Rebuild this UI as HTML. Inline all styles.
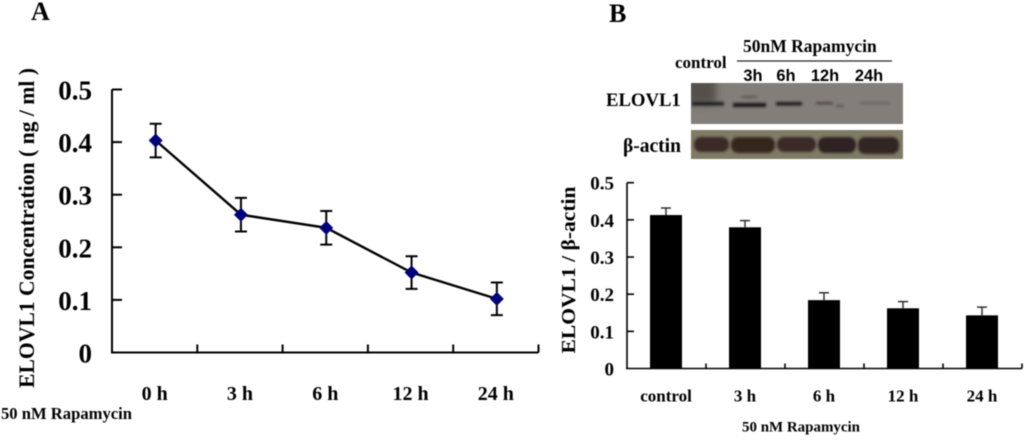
<!DOCTYPE html>
<html>
<head>
<meta charset="utf-8">
<style>
html,body{margin:0;padding:0;background:#fff;width:1024px;height:441px;overflow:hidden}
svg{display:block}
text{font-family:"Liberation Serif",serif;font-weight:bold;fill:#000}
</style>
</head>
<body>
<svg id="fig" xmlns="http://www.w3.org/2000/svg" width="1024" height="441" viewBox="0 0 1024 441">
<defs>
<filter id="soft" x="-5%" y="-5%" width="110%" height="110%"><feGaussianBlur stdDeviation="0.5"/></filter>
<filter id="b1" x="-30%" y="-200%" width="160%" height="500%"><feGaussianBlur stdDeviation="1.3"/></filter>
<filter id="b2" x="-60%" y="-60%" width="220%" height="220%"><feGaussianBlur stdDeviation="4"/></filter>
<clipPath id="clipElovl"><rect x="691" y="83" width="212" height="41"/></clipPath>
<clipPath id="clipActin"><rect x="691" y="130" width="212" height="29"/></clipPath>
</defs>
<g id="root" filter="url(#soft)">
<text x="31" y="20" font-size="26">A</text>
<text x="609" y="22" font-size="26">B</text>

<g>
<text x="675" y="68" font-size="17">control</text>
<text x="743" y="52" font-size="17.5">50nM Rapamycin</text>
<line x1="737" y1="61" x2="892" y2="61" stroke="#222" stroke-width="1.3"/>
<g font-size="16.4">
<text x="753" y="81" text-anchor="middle" style="font-family:'Liberation Sans',sans-serif">3h</text>
<text x="786" y="81" text-anchor="middle" style="font-family:'Liberation Sans',sans-serif">6h</text>
<text x="825" y="81" text-anchor="middle" style="font-family:'Liberation Sans',sans-serif">12h</text>
<text x="869" y="81" text-anchor="middle" style="font-family:'Liberation Sans',sans-serif">24h</text>
</g>
<text x="606" y="106" font-size="18.7">ELOVL1</text>
<text x="623" y="152" font-size="19.5">β-actin</text>

<g clip-path="url(#clipElovl)">
<rect x="691" y="83" width="212" height="41" fill="#827e79"/>
<rect x="686" y="78" width="30" height="26" fill="#54504c" filter="url(#b2)"/>
<rect x="692" y="102" width="32" height="3.5" fill="#1c1a1a" filter="url(#b1)"/>
<rect x="733" y="103" width="33" height="4" fill="#141212" filter="url(#b1)"/>
<ellipse cx="749" cy="97" rx="9" ry="1.6" fill="#625e5a" filter="url(#b1)"/>
<rect x="776" y="102" width="26" height="3.5" fill="#1e1c1c" filter="url(#b1)"/>
<rect x="816" y="102" width="17" height="2.5" fill="#4d4a48" filter="url(#b1)"/>
<rect x="836" y="105" width="8" height="2" fill="#55524f" filter="url(#b1)"/>
<rect x="860" y="102" width="30" height="2" fill="#63605c" filter="url(#b1)"/>
</g>
<g clip-path="url(#clipActin)">
<rect x="691" y="130" width="212" height="29" fill="#7f7b66"/>
<rect x="694" y="137" width="35" height="15" rx="7" fill="#3a2c25" filter="url(#b1)"/>
<rect x="731" y="137" width="44" height="16" rx="7" fill="#36281f" filter="url(#b1)"/>
<rect x="777" y="137" width="39" height="15" rx="7" fill="#3a2c25" filter="url(#b1)"/>
<rect x="818" y="137" width="38" height="16" rx="7" fill="#2f2420" filter="url(#b1)"/>
<rect x="858" y="137" width="41" height="17" rx="7" fill="#322622" filter="url(#b1)"/>
</g>
</g>

<g id="chartA"></g>
<g id="chartB"></g>
</g>
</svg>
<script>
// Panel A data
const lineCategories = ['0 h', '3 h', '6 h', '12 h', '24 h'];
const lineValues = [0.403, 0.262, 0.237, 0.152, 0.102];
const lineErrors = [0.032, 0.032, 0.032, 0.031, 0.031];
const lineTicks = [0, 0.1, 0.2, 0.3, 0.4, 0.5];
// Panel B data
const barCategories = ['control', '3 h', '6 h', '12 h', '24 h'];
const barValues = [0.413, 0.38, 0.184, 0.162, 0.143];
const barErrors = [0.019, 0.018, 0.02, 0.018, 0.022];
const barTicks = [0, 0.1, 0.2, 0.3, 0.4, 0.5];

const NS = 'http://www.w3.org/2000/svg';
function mk(parent, tag, attrs, txt) {
  const el = document.createElementNS(NS, tag);
  for (const k in attrs) el.setAttribute(k, attrs[k]);
  if (txt !== undefined) el.textContent = txt;
  parent.appendChild(el);
  return el;
}
function label(t) { return t === 0 ? '0' : t.toFixed(1); }

// ---------- Panel A ----------
(function () {
  const g = document.getElementById('chartA');
  const x0 = 112, x1 = 538.5, yBase = 352.5, yTop = 89.5;
  const band = (x1 - x0) / lineCategories.length;
  const xA = i => x0 + band * (i + 0.5) + 1;
  const yA = v => yBase - (v / 0.5) * (yBase - yTop);

  const yAxis = mk(g, 'line', { x1: x0, y1: yTop, x2: x0, y2: yBase + 1, stroke: '#000', 'stroke-width': 2 });
  
  
  const xAxis = mk(g, 'line', { x1: x0 - 1, y1: yBase, x2: x1, y2: yBase, stroke: '#000', 'stroke-width': 2 });
  
  

  lineTicks.forEach(t => {
    const y = yA(t);
    if (t > 0) {
      const tick = mk(g, 'line', { x1: x0, y1: y, x2: x0 + 10, y2: y, stroke: '#000', 'stroke-width': 2 });
      
      
    }
    const tl = mk(g, 'text', { x: 92, y: y + 10, 'font-size': 27, 'text-anchor': 'end' }, label(t));
    
    
  });
  lineCategories.forEach((c, i) => {
    const tx = x0 + band * (i + 1);
    const tick = mk(g, 'line', { x1: tx, y1: yBase - 8, x2: tx, y2: yBase, stroke: '#000', 'stroke-width': 2 });
    
    
    const tl = mk(g, 'text', { x: xA(i) - 1, y: 400, 'font-size': 20, 'text-anchor': 'middle' }, c);
    
    
  });

  const pts = lineValues.map((v, i) => xA(i) + ',' + yA(v)).join(' ');
  const line = mk(g, 'polyline', { points: pts, fill: 'none', stroke: '#000', 'stroke-width': 2.4 });
  
  

  lineValues.forEach((v, i) => {
    const x = xA(i), hi = yA(v + lineErrors[i]), lo = yA(v - lineErrors[i]);
    const eb = mk(g, 'path', {
      d: 'M' + x + ' ' + hi + 'V' + lo + 'M' + (x - 6) + ' ' + hi + 'H' + (x + 6) + 'M' + (x - 6) + ' ' + lo + 'H' + (x + 6),
      fill: 'none', stroke: '#000', 'stroke-width': 2
    });
    
    
    const y = yA(v);
    const m = mk(g, 'path', {
      d: 'M' + (x - 7) + ' ' + y + 'L' + x + ' ' + (y - 7) + 'L' + (x + 7) + ' ' + y + 'L' + x + ' ' + (y + 7) + 'Z',
      fill: '#00067a'
    });
    
    
  });

  const yt = mk(g, 'text', { transform: 'translate(34,388) rotate(-90)', 'font-size': 22, textLength: 320, lengthAdjust: 'spacingAndGlyphs' }, 'ELOVL1 Concentration ( ng / ml )');
  
  
  const xt = mk(g, 'text', { x: 1, y: 419, 'font-size': 17, textLength: 131, lengthAdjust: 'spacingAndGlyphs' }, '50 nM Rapamycin');
  
  
})();

// ---------- Panel B ----------
(function () {
  const g = document.getElementById('chartB');
  const x0 = 627, x1 = 1022, yBase = 368.5, yTop = 182.7, barW = 32;
  const band = (x1 - x0) / barCategories.length;
  const xB = i => x0 + band * (i + 0.5) - 0.5;
  const yB = v => yBase - (v / 0.5) * (yBase - yTop);

  barValues.forEach((v, i) => {
    const x = xB(i), top = yB(v + barErrors[i]);
    const eb = mk(g, 'path', {
      d: 'M' + x + ' ' + yB(v) + 'V' + top + 'M' + (x - 5) + ' ' + top + 'H' + (x + 5),
      fill: 'none', stroke: '#333', 'stroke-width': 1.5
    });
    
    
    const bar = mk(g, 'rect', { x: x - barW / 2, y: yB(v), width: barW, height: yBase - yB(v), fill: '#000' });
    
    
    const tl = mk(g, 'text', { x: x, y: 401.5, 'font-size': 17, 'text-anchor': 'middle' }, barCategories[i]);
    
    
    const tx = x0 + band * (i + 1);
    const tick = mk(g, 'line', { x1: tx, y1: yBase - 5, x2: tx, y2: yBase, stroke: '#000', 'stroke-width': 1.6 });
    
    
  });

  const yAxis = mk(g, 'line', { x1: x0, y1: yTop, x2: x0, y2: yBase, stroke: '#000', 'stroke-width': 1.6 });
  
  
  const xAxis = mk(g, 'line', { x1: x0 - 1, y1: yBase, x2: x1, y2: yBase, stroke: '#000', 'stroke-width': 1.6 });
  
  

  barTicks.forEach(t => {
    const y = yB(t);
    if (t > 0) {
      const tick = mk(g, 'line', { x1: x0, y1: y, x2: x0 + 7, y2: y, stroke: '#000', 'stroke-width': 1.6 });
      
      
    }
    const tl = mk(g, 'text', { x: 614, y: y + 7, 'font-size': 19, 'text-anchor': 'end' }, label(t));
    
    
  });

  const yt = mk(g, 'text', { transform: 'translate(575,353.5) rotate(-90)', 'font-size': 19.5, textLength: 167, lengthAdjust: 'spacingAndGlyphs' }, 'ELOVL1 / β-actin');
  
  
  const xt = mk(g, 'text', { x: 742, y: 431.5, 'font-size': 15, textLength: 118, lengthAdjust: 'spacingAndGlyphs' }, '50 nM Rapamycin');
  
  
})();
</script>
</body>
</html>
